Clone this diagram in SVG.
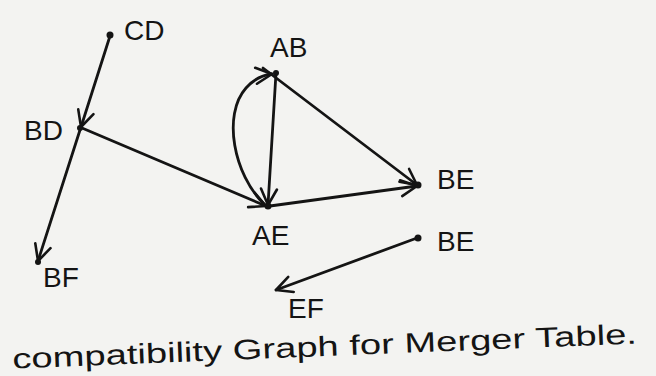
<svg xmlns="http://www.w3.org/2000/svg" width="656" height="376" viewBox="0 0 656 376">
<style>
.lbl{font-family:"Liberation Sans",Arial,sans-serif;font-size:28px;fill:#141414}
.edge{fill:none;stroke:#141414;stroke-width:2.8;stroke-linecap:round}
.dot{fill:#141414}
</style>
<defs>
<marker id="arr" viewBox="0 0 20 20" refX="18" refY="10" markerWidth="20" markerHeight="20" markerUnits="userSpaceOnUse" orient="auto">
<polyline points="2,2 18,10 2,18" fill="none" stroke="#141414" stroke-width="2.6" stroke-linecap="round" stroke-linejoin="round"/>
</marker>
</defs>
<rect width="656" height="376" fill="#f3f3f1"/>
<g id="connectors">
<line class="edge" x1="110" y1="36" x2="81" y2="127" marker-end="url(#arr)"/>
<line class="edge" x1="80" y1="130" x2="38" y2="261" marker-end="url(#arr)"/>
<line class="edge" x1="82" y1="128" x2="266" y2="206" marker-end="url(#arr)"/>
<line class="edge" x1="276" y1="73" x2="268" y2="205" marker-end="url(#arr)"/>
<path class="edge" d="M264,204 C234,175 222,115 246,88 C254,79 263,75 272,74" marker-end="url(#arr)"/>
<line class="edge" x1="263" y1="68" x2="417" y2="185" marker-end="url(#arr)"/>
<line class="edge" x1="270" y1="206" x2="417" y2="186" marker-end="url(#arr)"/>
<line class="edge" x1="417" y1="238" x2="276" y2="290" marker-end="url(#arr)"/>
</g>
<g id="node-CD"><circle class="dot" cx="110" cy="35" r="3.5"/><text class="lbl" x="124" y="40">CD</text></g>
<g id="node-BD"><circle class="dot" cx="80" cy="128" r="3"/><text class="lbl" x="24" y="140">BD</text></g>
<g id="node-BF"><circle class="dot" cx="38" cy="262" r="3"/><text class="lbl" x="43" y="287">BF</text></g>
<g id="node-AB"><circle class="dot" cx="276" cy="73" r="3"/><text class="lbl" x="270" y="57">AB</text></g>
<g id="node-AE"><circle class="dot" cx="268" cy="206" r="3.5"/><text class="lbl" x="252" y="245">AE</text></g>
<g id="node-BE1"><circle class="dot" cx="418" cy="185" r="3.5"/><text class="lbl" x="437" y="189">BE</text></g>
<g id="node-BE2"><circle class="dot" cx="418" cy="238" r="3.5"/><text class="lbl" x="437" y="251">BE</text></g>
<g id="node-EF"><text class="lbl" x="288" y="318">EF</text></g>
<text class="lbl" x="12" y="356" font-size="30" textLength="625" lengthAdjust="spacingAndGlyphs" transform="rotate(-2.3 325 345)">compatibility Graph for Merger Table.</text>
</svg>
